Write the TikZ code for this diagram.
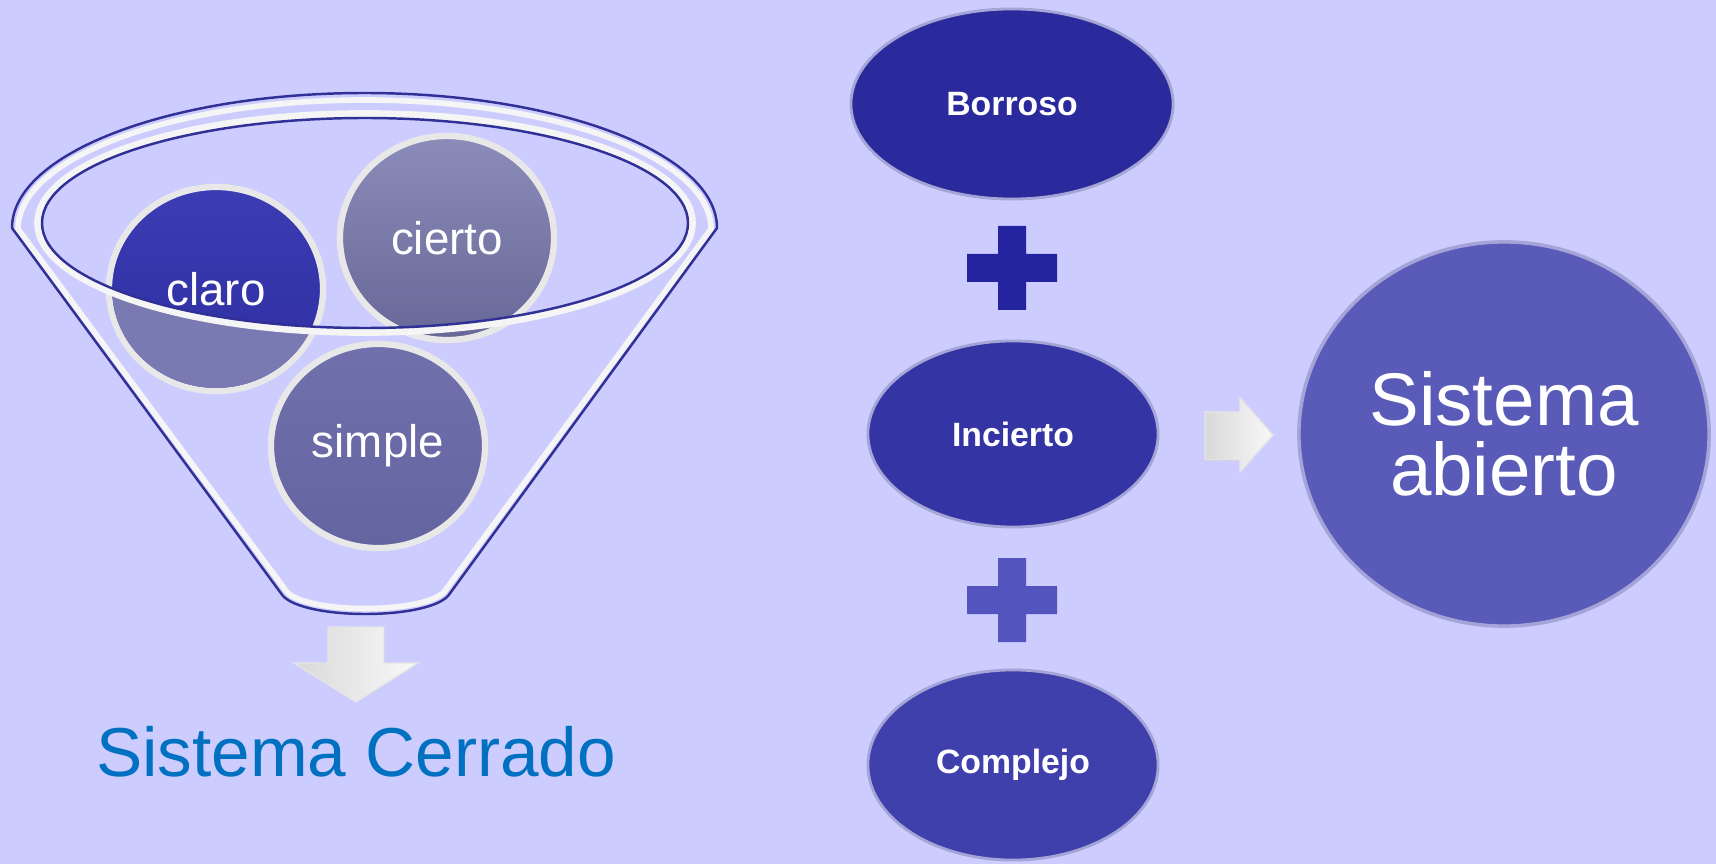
\documentclass[tikz,border=0pt]{standalone}
\usepackage{fontspec}
\setmainfont{Liberation Sans}
\usepackage{xcolor}
\usepackage{tikz}
\usetikzlibrary{shapes.geometric}

\definecolor{fondo}{RGB}{204,204,255}
\definecolor{linea}{RGB}{48,48,150}
\definecolor{claroA}{RGB}{60,60,180}
\definecolor{claroB}{RGB}{46,46,160}
\definecolor{claroabajo}{RGB}{122,122,178}
\definecolor{ciertoA}{RGB}{140,140,186}
\definecolor{ciertoB}{RGB}{104,104,152}
\definecolor{simpleA}{RGB}{112,112,172}
\definecolor{simpleB}{RGB}{100,100,160}
\definecolor{ovaloA}{RGB}{42,42,156}
\definecolor{ovaloB}{RGB}{52,52,164}
\definecolor{ovaloC}{RGB}{64,64,172}
\definecolor{masA}{RGB}{36,36,160}
\definecolor{masB}{RGB}{84,84,190}
\definecolor{grande}{RGB}{90,90,184}
\definecolor{cerrado}{RGB}{0,112,192}

\begin{document}
\begin{tikzpicture}[
    x=0.01cm, y=-0.01cm,
    bola/.style={ellipse, minimum width=2.14cm, minimum height=2.04cm, inner sep=0pt,
      draw=white!82!gray, line width=1.8pt, text=white, font=\fontsize{13}{15}\selectfont},
    letra/.style={text=white, font=\fontsize{13}{15}\selectfont},
    ovalo/.style={ellipse, inner sep=0pt, draw=white!55!ovaloB, line width=0.8pt,
      text=white, font=\bfseries\fontsize{9.6}{11}\selectfont},
    flecha/.style={draw=white!80!gray, line width=0.4pt, left color=gray!30, right color=white!95!gray},
    borde/.style={draw=linea, line width=0.7pt},
    brillo/.style={draw=white!92!gray, line width=1.6pt}
  ]
  \fill[fondo] (0,0) rectangle (1716,864);
  \useasboundingbox (0,0) rectangle (1716,864);

  \node[bola, top color=claroA, bottom color=claroB] (claro) at (216,289) {};
  \node[bola, top color=ciertoA, bottom color=ciertoB] (cierto) at (447,238) {cierto};
  \node[bola, top color=simpleA, bottom color=simpleB] (simple) at (378,446) {simple};
  \begin{scope}
    \clip (216,289) ellipse [x radius=104, y radius=99];
    \clip (0,240) rectangle (740,420);
    \fill[claroabajo, even odd rule] (-20,0) rectangle (760,440)
      (365,223) ellipse [x radius=323, y radius=105];
  \end{scope}
  \node[letra] (textoclaro) at (claro) {claro};

  \draw[brillo] (18,229) arc[start angle=180, end angle=360, x radius=346.5, y radius=129]
    -- (444,592) .. controls (422,614) and (308,614) .. (287,592) -- cycle;
  \draw[borde] (12,228) arc[start angle=180, end angle=360, x radius=352.5, y radius=135]
    -- (448,596) .. controls (425,620) and (306,620) .. (283,596) -- cycle;
  \draw[brillo, line width=2.2pt] (365,223) ellipse [x radius=327, y radius=109];
  \draw[borde] (365,223) ellipse [x radius=323, y radius=105];

  \filldraw[flecha] (328,627) -- (384,627) -- (384,663) -- (418,663) -- (356,702)
    -- (294,663) -- (328,663) -- cycle;
  \node[text=cerrado, font=\fontsize{19.7}{22}\selectfont] (cerrado) at (356,752) {Sistema Cerrado};

  \node[ovalo, fill=ovaloA, minimum width=3.22cm, minimum height=1.90cm] (borroso) at (1012,104) {Borroso};
  \node[ovalo, fill=ovaloB, minimum width=2.90cm, minimum height=1.86cm] (incierto) at (1013,434) {Incierto};
  \node[ovalo, fill=ovaloC, minimum width=2.90cm, minimum height=1.90cm] (complejo) at (1013,765) {Complejo};

  \fill[masA] (1012,268) ++(-45,-14) rectangle ++(90,28) (1012,268) ++(-14,-42) rectangle ++(28,84);
  \fill[masB] (1012,600) ++(-45,-14) rectangle ++(90,28) (1012,600) ++(-14,-42) rectangle ++(28,84);

  \filldraw[flecha] (1205,412) -- (1240,412) -- (1240,398) -- (1273,435) -- (1240,472)
    -- (1240,460) -- (1205,460) -- cycle;
  \node[ellipse, fill=grande, draw=white!45!grande, line width=1pt, minimum width=4.10cm,
    minimum height=3.84cm, inner sep=0pt, align=center, text=white,
    font=\fontsize{21.2}{20}\selectfont] (abierto) at (1504,434) {Sistema\\abierto};
\end{tikzpicture}
\end{document}
